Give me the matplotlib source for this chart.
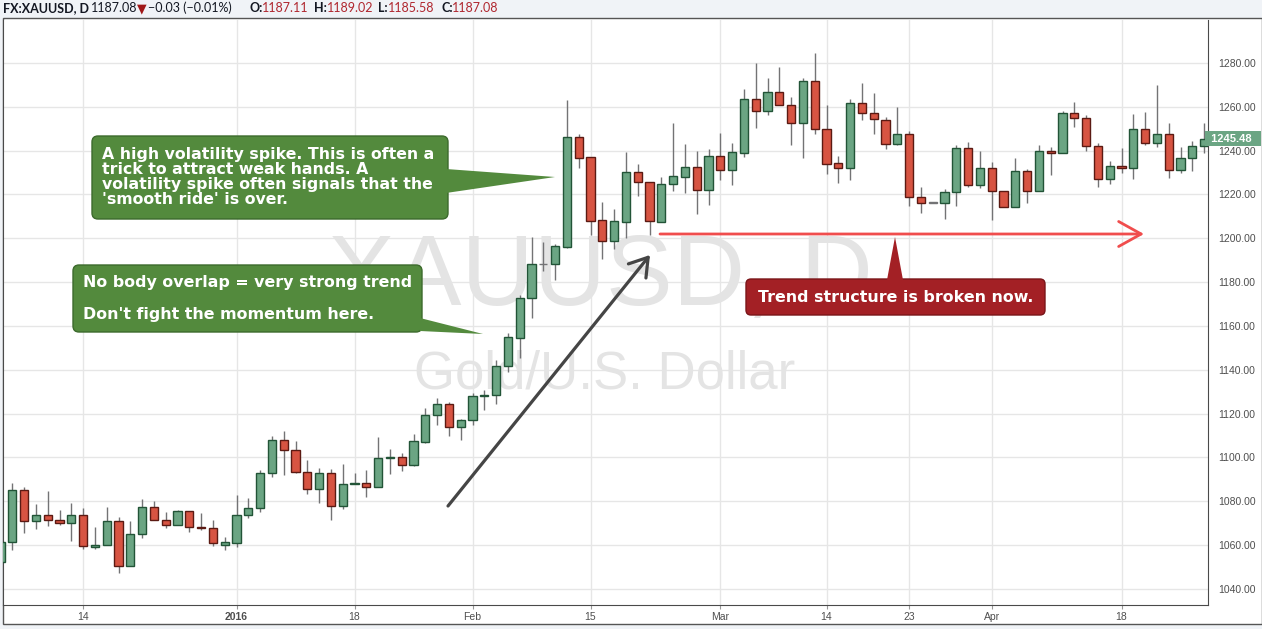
import matplotlib.pyplot as plt
import matplotlib.transforms as mtransforms
from matplotlib.patches import FancyBboxPatch, Polygon, Rectangle
import numpy as np

# daily XAUUSD candles (first one is cut by the left edge)
opens = [1052.4, 1061.4, 1085.3, 1070.8, 1073.9, 1071.7, 1070.2, 1073.9, 1059.2, 1060.3,
         1071.2, 1050.3, 1065.3, 1077.6, 1071.7, 1069.4, 1075.8, 1068.5, 1068.0, 1060.0,
         1061.0, 1073.6, 1076.8, 1092.7, 1108.2, 1103.6, 1093.6, 1085.5, 1092.7, 1077.7,
         1087.7, 1088.3, 1086.4, 1099.8, 1100.4, 1096.8, 1107.2, 1119.2, 1124.2, 1114.0,
         1117.2, 1128.0, 1128.3, 1141.6, 1154.6, 1172.6, 1188.1, 1188.1, 1196.1, 1246.1,
         1237.0, 1208.2, 1198.9, 1207.5, 1230.1, 1225.5, 1207.4, 1224.9, 1228.1, 1232.4,
         1222.0, 1237.7, 1231.3, 1239.1, 1263.5, 1257.9, 1266.9, 1260.9, 1252.5, 1271.9,
         1249.8, 1234.2, 1231.9, 1261.7, 1257.1, 1253.9, 1242.9, 1247.5, 1218.9, 1216.3,
         1216.3, 1220.9, 1241.4, 1224.1, 1231.9, 1221.4, 1214.4, 1230.5, 1221.4, 1239.7,
         1239.1, 1257.1, 1254.8, 1242.0, 1226.9, 1232.8, 1231.9, 1249.8, 1243.5, 1247.5,
         1231.3, 1236.8, 1242.3]
highs = [1062.0, 1088.3, 1086.4, 1078.8, 1084.8, 1075.9, 1079.1, 1077.0, 1068.2, 1077.6,
         1072.7, 1070.9, 1081.2, 1080.0, 1075.0, 1076.2, 1075.8, 1074.7, 1071.7, 1063.5,
         1082.7, 1081.4, 1094.5, 1109.7, 1112.3, 1107.7, 1098.8, 1095.3, 1094.8, 1097.1,
         1093.0, 1094.2, 1109.2, 1104.1, 1102.1, 1110.5, 1122.4, 1127.2, 1125.2, 1117.5,
         1129.4, 1130.6, 1144.7, 1156.8, 1174.1, 1200.6, 1198.2, 1197.3, 1263.0, 1247.7,
         1237.0, 1216.4, 1213.4, 1239.3, 1233.9, 1225.5, 1227.8, 1252.7, 1243.1, 1239.7,
         1240.8, 1248.1, 1243.5, 1268.1, 1279.8, 1273.0, 1278.0, 1264.6, 1273.0, 1284.4,
         1260.9, 1237.6, 1263.5, 1270.7, 1266.3, 1255.4, 1260.0, 1249.0, 1223.4, 1216.3,
         1222.3, 1242.6, 1244.0, 1239.8, 1234.8, 1221.8, 1236.5, 1231.5, 1242.4, 1241.8,
         1258.2, 1262.3, 1256.3, 1243.5, 1235.3, 1241.1, 1256.6, 1257.7, 1270.1, 1252.4,
         1241.7, 1244.4, 1252.4]
lows = [1050.0, 1057.7, 1065.6, 1067.4, 1068.6, 1069.2, 1061.8, 1058.3, 1058.3, 1060.3,
        1047.4, 1050.3, 1063.3, 1071.7, 1067.7, 1069.4, 1066.0, 1066.7, 1059.4, 1058.0,
        1059.0, 1072.6, 1075.2, 1091.0, 1091.8, 1093.0, 1083.2, 1079.4, 1071.4, 1076.4,
        1087.7, 1082.1, 1086.4, 1092.3, 1093.8, 1096.0, 1106.8, 1114.8, 1110.0, 1108.1,
        1114.8, 1121.8, 1124.2, 1139.1, 1145.2, 1163.8, 1185.1, 1181.1, 1195.5, 1232.1,
        1201.3, 1190.5, 1195.1, 1200.1, 1219.1, 1201.6, 1207.3, 1221.7, 1220.7, 1211.1,
        1215.3, 1226.8, 1224.5, 1237.3, 1250.1, 1256.3, 1260.8, 1242.6, 1236.8, 1247.8,
        1229.2, 1225.3, 1226.4, 1254.0, 1247.8, 1240.6, 1242.4, 1214.7, 1211.6, 1216.3,
        1209.0, 1214.8, 1223.4, 1223.0, 1208.5, 1214.4, 1214.4, 1216.2, 1221.4, 1228.9,
        1239.1, 1251.0, 1239.8, 1223.5, 1225.0, 1229.9, 1227.2, 1242.6, 1241.7, 1227.3,
        1229.9, 1230.7, 1239.1]
closes = [1061.4, 1085.3, 1070.9, 1073.9, 1071.5, 1070.2, 1073.9, 1059.4, 1060.3, 1071.2,
          1050.3, 1065.3, 1077.6, 1071.7, 1069.4, 1075.8, 1068.5, 1067.9, 1060.8, 1061.5,
          1073.6, 1076.8, 1092.7, 1108.2, 1103.6, 1093.5, 1085.5, 1092.7, 1077.7, 1087.7,
          1088.3, 1086.4, 1099.8, 1100.3, 1096.8, 1107.4, 1119.3, 1124.2, 1114.0, 1117.2,
          1127.9, 1128.4, 1141.6, 1154.9, 1172.6, 1188.1, 1188.1, 1196.3, 1246.1, 1236.7,
          1208.0, 1198.9, 1207.7, 1230.1, 1225.5, 1207.7, 1224.9, 1228.3, 1232.4, 1222.2,
          1237.7, 1231.3, 1239.3, 1263.5, 1257.9, 1266.9, 1260.8, 1252.5, 1271.9, 1249.8,
          1234.0, 1231.9, 1261.7, 1257.1, 1254.4, 1242.9, 1247.5, 1218.9, 1216.3, 1216.3,
          1220.9, 1241.4, 1224.1, 1231.9, 1221.4, 1214.4, 1230.5, 1221.4, 1239.7, 1239.1,
          1257.1, 1254.8, 1242.0, 1226.9, 1232.8, 1231.9, 1249.8, 1243.5, 1247.5, 1231.3,
          1236.8, 1242.3, 1245.48]

date_ticks = [7, 20, 30, 40, 50, 61, 70, 77, 84, 95]
date_labels = ['14', '2016', '18', 'Feb', '15', 'Mar', '14', '23', 'Apr', '18']
price_ticks = list(range(1040, 1281, 20))

header = [('FX:XAUUSD, D', 'bold', '#131722'), ('1187.08', 'normal', '#131722'),
          ('\u25bc', 'normal', '#a01818'), ('\u22120.03 (\u22120.01%)', 'normal', '#131722'),
          ('O:', 'bold', '#131722'), ('1187.11', 'normal', '#b0272f'),
          ('H:', 'bold', '#131722'), ('1189.02', 'normal', '#b0272f'),
          ('L:', 'bold', '#131722'), ('1185.58', 'normal', '#b0272f'),
          ('C:', 'bold', '#131722'), ('1187.08', 'normal', '#b0272f')]
header_x = [3, 91, 137, 148, 249, 262, 314, 327, 378, 388, 441, 452]

note_spike = ["A high volatility spike. This is often a",
              "trick to attract weak hands. A",
              "volatility spike often signals that the",
              "'smooth ride' is over."]
note_trend = ["No body overlap = very strong trend", "Don't fight the momentum here."]
note_broken = "Trend structure is broken now."

UP, UP_EDGE = '#6ba583', '#225437'
DOWN, DOWN_EDGE = '#d75442', '#5b1a13'
WICK = '#737375'
GREEN_BOX, GREEN_EDGE = '#538a3d', '#3c6a2c'
RED_BOX, RED_EDGE = '#a32025', '#7a1519'

W, H = 1262, 629
fig = plt.figure(figsize=(W / 100, H / 100), dpi=100, facecolor='#f0f3f7')
fig.patches.append(Rectangle((3 / W, (H - 624) / H), (W - 3) / W, (624 - 18) / H,
                             transform=fig.transFigure, facecolor='white',
                             edgecolor='#555555', lw=1, zorder=-1))

ax = fig.add_axes([3 / W, (H - 605) / H, (1208 - 3) / W, (605 - 20) / H])
ax.set_facecolor('white')
ax.set_xlim(0.21, 102.33)
ax.set_ylim(1032.7, 1299.6)

o = np.array(opens)
h = np.array(highs)
l = np.array(lows)
c = np.array(closes)
x = np.arange(len(o))

face = np.where(c > o, UP, np.where(c < o, DOWN, WICK))
edge = np.where(c > o, UP_EDGE, np.where(c < o, DOWN_EDGE, WICK))
body = np.maximum(np.abs(c - o), 0.35)

ax.vlines(x, l, h, color=WICK, lw=1, zorder=3)
ax.bar(x, body, bottom=np.minimum(o, c), width=0.7, color=face, edgecolor=edge,
       linewidth=1, zorder=4)

# watermark
ax.text(50.8, 1169.6, 'XAUUSD, D', fontsize=72, color='#e4e4e4', ha='center',
        va='baseline', family='Liberation Sans', zorder=1)
ax.text(51.2, 1131.7, 'Gold/U.S. Dollar', fontsize=38, color='#e4e4e4', ha='center',
        va='baseline', family='Liberation Sans', zorder=1)

ax.set_xticks(date_ticks)
ax.set_xticklabels(date_labels)
for lab in ax.get_xticklabels():
    if lab.get_text() == '2016':
        lab.set_fontweight('bold')
ax.set_yticks(price_ticks)
ax.set_yticklabels([f'{p:.2f}' for p in price_ticks])
ax.yaxis.tick_right()
ax.grid(color='#e6e6e6', lw=1)
ax.set_axisbelow(True)
ax.tick_params(axis='y', length=0, pad=7, labelsize=7.5, labelcolor='#4f4f4f')
ax.tick_params(axis='x', length=3, pad=2, color='#999999', labelsize=7.5,
               labelcolor='#4f4f4f')
for lab in ax.get_xticklabels() + ax.get_yticklabels():
    lab.set_family('Liberation Sans')
ax.spines['top'].set_visible(False)
for s in ['left', 'bottom', 'right']:
    ax.spines[s].set_color('#4a4a4a')

# last price tag
blend = mtransforms.blended_transform_factory(ax.transAxes, ax.transData)
ax.text(1.0, closes[-1], f' {closes[-1]:.2f}  ', transform=blend, ha='left', va='center',
        fontsize=8, fontweight='bold', color='white', family='Liberation Sans',
        bbox=dict(boxstyle='square,pad=0.25', fc=UP, ec='none'), clip_on=False, zorder=6)

# overlay in pixel coordinates for the header and drawn annotations
ov = fig.add_axes([0, 0, 1, 1])
ov.set_xlim(0, W)
ov.set_ylim(H, 0)
ov.axis('off')
ov.set_zorder(5)

for (txt, wt, col), hx in zip(header, header_x):
    ov.text(hx, 8, txt, fontsize=9, fontweight=wt, color=col, family=['Lato', 'DejaVu Sans'],
            ha='left', va='center')

# spike note
ov.add_patch(FancyBboxPatch((92, 136), 356, 83, boxstyle='round,pad=0,rounding_size=6',
                            fc=GREEN_BOX, ec=GREEN_EDGE, lw=1))
ov.add_patch(Polygon([(446, 169), (555, 177), (446, 193)], closed=True, fc=GREEN_BOX,
                     ec='none'))
for k, line in enumerate(note_spike):
    ov.text(102, 159.5 + 15 * k, line, fontsize=11.3, fontweight='bold', color='white',
            ha='left', va='baseline')

# trend note
ov.add_patch(FancyBboxPatch((73, 265), 349, 67, boxstyle='round,pad=0,rounding_size=6',
                            fc=GREEN_BOX, ec=GREEN_EDGE, lw=1))
ov.add_patch(Polygon([(420, 318), (483, 334), (420, 331)], closed=True, fc=GREEN_BOX,
                     ec='none'))
ov.text(83, 287, note_trend[0], fontsize=11.4, fontweight='bold', color='white',
        ha='left', va='baseline')
ov.text(83, 319.5, note_trend[1], fontsize=11.4, fontweight='bold', color='white',
        ha='left', va='baseline')

# broken structure note
ov.add_patch(FancyBboxPatch((746, 279), 299, 36, boxstyle='round,pad=0,rounding_size=5',
                            fc=RED_BOX, ec=RED_EDGE, lw=1))
ov.add_patch(Polygon([(887, 280), (895, 237), (903, 280)], closed=True, fc=RED_BOX,
                     ec='none'))
ov.text(895.5, 297.5, note_broken, fontsize=11.4, fontweight='bold', color='white',
        ha='center', va='center')

# arrows
ov.annotate('', xy=(1144, 234), xytext=(660, 234),
            arrowprops=dict(arrowstyle='->,head_length=0.9,head_width=0.5', lw=2,
                            color='#f04d4d', shrinkA=0, shrinkB=0, mutation_scale=18))
ov.annotate('', xy=(650, 255), xytext=(448, 506),
            arrowprops=dict(arrowstyle='->,head_length=0.7,head_width=0.45', lw=2.3,
                            color='#454545', shrinkA=0, shrinkB=0, mutation_scale=18))

fig.savefig('out.png', dpi=100, facecolor=fig.get_facecolor())
